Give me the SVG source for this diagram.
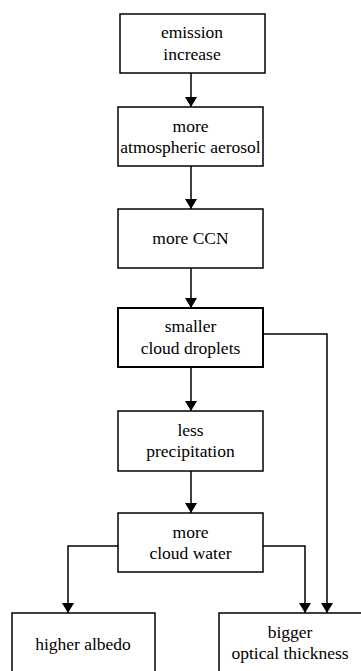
<svg xmlns="http://www.w3.org/2000/svg" width="361" height="671" viewBox="0 0 361 671">
<style>
.box{fill:#fff;stroke:#000;stroke-width:1.5}
.bold{stroke-width:2}
.t{font-family:'Liberation Serif','Times New Roman','DejaVu Serif',serif;font-size:17.5px;fill:#000;text-anchor:middle}
.c{fill:none;stroke:#000;stroke-width:1.5}
</style>
<defs>
<marker id="ah" viewBox="0 0 10 12" refX="10" refY="6" markerWidth="10" markerHeight="12" markerUnits="userSpaceOnUse" orient="auto">
<path d="M0,0 L10,6 L0,12 Z" fill="#000"/>
</marker>
</defs>
<rect width="361" height="671" fill="#fff"/>
<g id="connectors">
<path class="c" d="M191,73 V107" marker-end="url(#ah)"/>
<path class="c" d="M191,166 V209" marker-end="url(#ah)"/>
<path class="c" d="M191,268 V308" marker-end="url(#ah)"/>
<path class="c" d="M191,367 V411" marker-end="url(#ah)"/>
<path class="c" d="M191,471 V513" marker-end="url(#ah)"/>
<path class="c" d="M118,546 H68 V613" marker-end="url(#ah)"/>
<path class="c" d="M263,546 H305 V613" marker-end="url(#ah)"/>
<path class="c" d="M263,334 H327 V613" marker-end="url(#ah)"/>
</g>
<g id="emission">
<rect class="box" x="120" y="14" width="145" height="59"/>
<text class="t" font-family="Liberation Serif, serif" x="192" y="38">emission</text>
<text class="t" font-family="Liberation Serif, serif" x="192" y="60">increase</text>
</g>
<g id="aerosol">
<rect class="box" x="118" y="107" width="145" height="59"/>
<text class="t" font-family="Liberation Serif, serif" x="190.5" y="132">more</text>
<text class="t" font-family="Liberation Serif, serif" x="190.5" y="153">atmospheric aerosol</text>
</g>
<g id="ccn">
<rect class="box" x="118" y="209" width="145" height="59"/>
<text class="t" font-family="Liberation Serif, serif" x="190.5" y="244">more CCN</text>
</g>
<g id="droplets">
<rect class="box bold" x="118" y="308" width="145" height="59"/>
<text class="t" font-family="Liberation Serif, serif" x="190.5" y="332">smaller</text>
<text class="t" font-family="Liberation Serif, serif" x="190.5" y="354">cloud droplets</text>
</g>
<g id="precip">
<rect class="box" x="118" y="411" width="145" height="60"/>
<text class="t" font-family="Liberation Serif, serif" x="190.5" y="436">less</text>
<text class="t" font-family="Liberation Serif, serif" x="190.5" y="457">precipitation</text>
</g>
<g id="water">
<rect class="box" x="118" y="513" width="145" height="59"/>
<text class="t" font-family="Liberation Serif, serif" x="190.5" y="538">more</text>
<text class="t" font-family="Liberation Serif, serif" x="190.5" y="559">cloud water</text>
</g>
<g id="albedo">
<rect class="box" x="12" y="613" width="143" height="70"/>
<text class="t" font-family="Liberation Serif, serif" x="83" y="650">higher albedo</text>
</g>
<g id="optical">
<rect class="box" x="219" y="613" width="150" height="70"/>
<text class="t" font-family="Liberation Serif, serif" x="290" y="638">bigger</text>
<text class="t" font-family="Liberation Serif, serif" x="290" y="659">optical thickness</text>
</g>
</svg>
